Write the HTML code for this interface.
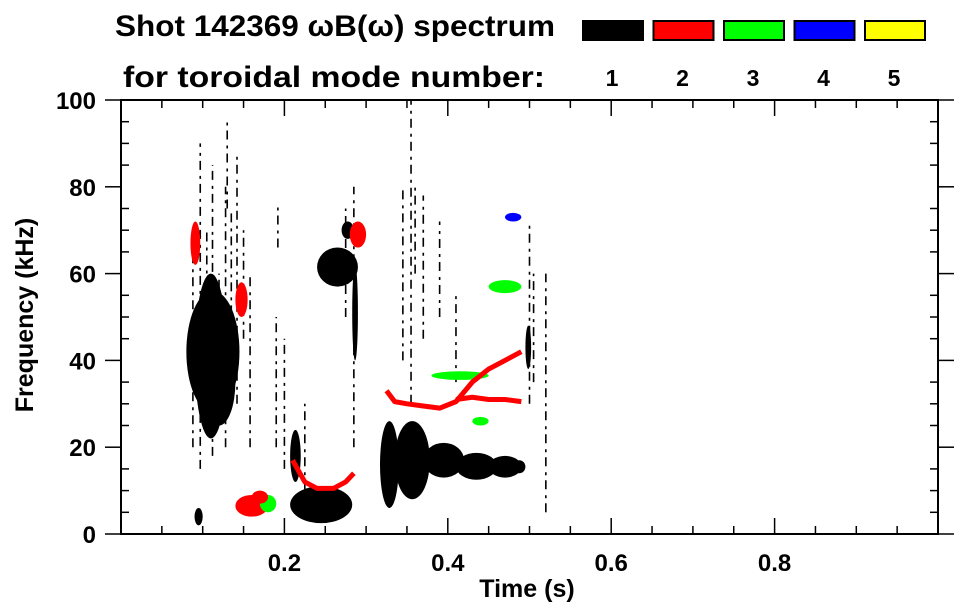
<!DOCTYPE html>
<html><head><meta charset="utf-8">
<style>
body{margin:0;background:#fff;}
svg{display:block;font-family:"Liberation Sans",sans-serif;font-weight:bold;}
</style></head>
<body>
<svg id="chart" width="963" height="615" viewBox="0 0 963 615">
<g>
<text x="115" y="36" font-size="30" textLength="440" lengthAdjust="spacingAndGlyphs">Shot 142369 ωB(ω) spectrum</text>
<text x="123" y="87" font-size="30" textLength="422" lengthAdjust="spacingAndGlyphs">for toroidal mode number:</text>
</g>
<g id="legend"></g>
<g id="marks"></g>
<g id="axes"></g>
<text x="527" y="597" font-size="25" text-anchor="middle">Time (s)</text>
<text transform="translate(33,315) rotate(-90)" font-size="25" text-anchor="middle">Frequency (kHz)</text>
</svg>
<script>
const modeColors=["#000000","#ff0000","#00ff00","#0000ff","#ffff00"];
const modeLabels=["1","2","3","4","5"];
const xTicks=[0.2,0.4,0.6,0.8];
const xTickLabels=["0.2","0.4","0.6","0.8"];
const yTicks=[0,20,40,60,80,100];
const yTickLabels=["0","20","40","60","80","100"];
// blobs: time range, freq range, mode
const blobT0=[0.08,0.09,0.085,0.10,0.09,0.207,0.207,0.24,0.27,0.317,0.335,0.37,0.41,0.45,0.48,0.085,0.28,0.14,0.38,0.45,0.43,0.47,0.14,0.17,0.283,0.16,0.495];
const blobT1=[0.145,0.13,0.125,0.14,0.10,0.283,0.22,0.29,0.285,0.34,0.378,0.42,0.46,0.49,0.495,0.097,0.30,0.18,0.45,0.49,0.45,0.49,0.155,0.19,0.29,0.18,0.502];
const blobF0=[28,22,35,25,2,2.5,12,57,68,6,8,13,12.5,13,14,62,66,4,35.5,55.5,25,72,50,5,40,7,38];
const blobF1=[56,60,55,45,6,11,24,66,72,26,26,21,18.7,18,17,72,72,9,37.5,58.5,27,74,58,9,62,10,48];
const blobMode=[1,1,1,1,1,1,1,1,1,1,1,1,1,1,1,2,2,2,3,3,3,4,2,3,1,2,1];
// streaks
const streakT=[0.088,0.097,0.105,0.112,0.12,0.128,0.135,0.142,0.15,0.158,0.19,0.2,0.225,0.285,0.275,0.345,0.355,0.36,0.37,0.5,0.505,0.52,0.39,0.41,0.13,0.192];
const streakF0=[20,15,25,18,30,20,40,30,45,20,20,15,5,20,50,40,30,60,45,30,35,5,50,35,75,66];
const streakF1=[65,90,70,85,60,80,75,88,70,60,50,45,30,80,75,80,100,80,78,72,60,60,72,55,95,76];
const streakMode=[1,1,1,1,1,1,1,1,1,1,1,1,1,1,1,1,1,1,1,1,1,1,1,1,1,1];
// red chirp curves (mode 2)
const redAT=[0.325,0.335,0.35,0.37,0.39,0.41,0.43,0.45,0.47,0.49];
const redAF=[33,30.5,30,29.5,29,30.5,35,38,40,42];
const redBT=[0.41,0.43,0.45,0.47,0.49];
const redBF=[31,31.5,31,31,30.5];
const redDT=[0.21,0.225,0.24,0.26,0.275,0.285];
const redDF=[17,12,10.5,10.5,12,14];

const X0=121,X1=938,Y0=534,Y1=100;
const xs=t=>X0+(X1-X0)*t;
const ys=f=>Y0-(Y0-Y1)*f/100;
const NS="http://www.w3.org/2000/svg";
function mk(tag,attrs,parent){const e=document.createElementNS(NS,tag);for(const k in attrs)e.setAttribute(k,attrs[k]);parent.appendChild(e);return e;}

const legend=document.getElementById('legend');
modeColors.forEach((c,i)=>{
  const bx=582+i*70.5;
  const r=mk('rect',{x:bx+1,y:21,width:60,height:19,fill:c,stroke:'#000','stroke-width':2},legend);
  
  
  const t=mk('text',{x:bx+30,y:86,'font-size':23,'text-anchor':'middle'},legend);
  t.textContent=modeLabels[i];
  
  
});

const marks=document.getElementById('marks');
streakT.forEach((t,i)=>{
  const l=mk('line',{x1:xs(t),x2:xs(t),y1:ys(streakF0[i]),y2:ys(streakF1[i]),stroke:modeColors[streakMode[i]-1],'stroke-width':1.6,'stroke-dasharray':'9 5 3 6'},marks);
  
  
});
blobT0.forEach((t0,i)=>{
  const cx=(xs(t0)+xs(blobT1[i]))/2, cy=(ys(blobF0[i])+ys(blobF1[i]))/2;
  const e=mk('ellipse',{cx:cx,cy:cy,rx:(xs(blobT1[i])-xs(t0))/2,ry:(ys(blobF0[i])-ys(blobF1[i]))/2,fill:modeColors[blobMode[i]-1]},marks);
  
  
});
[[redAT,redAF,'red-chirp-upper'],[redBT,redBF,'red-band-lower'],[redDT,redDF,'red-curve-early']].forEach(([T,F,n])=>{
  const p=mk('polyline',{points:T.map((t,i)=>xs(t)+','+ys(F[i])).join(' '),fill:'none',stroke:'#ff0000','stroke-width':5,'stroke-linejoin':'round'},marks);
  
  
});

const axes=document.getElementById('axes');
const box=mk('rect',{x:X0,y:Y1,width:X1-X0,height:Y0-Y1,fill:'none',stroke:'#000','stroke-width':2},axes);


for(let k=1;k<20;k++){const t=k*0.05;const maj=k%4==0;
  mk('line',{x1:xs(t),x2:xs(t),y1:Y0,y2:Y0-(maj?16:8),stroke:'#000','stroke-width':1.5},axes);
  mk('line',{x1:xs(t),x2:xs(t),y1:Y1,y2:Y1+(maj?16:8),stroke:'#000','stroke-width':1.5},axes);}
for(let k=0;k<=20;k++){const f=k*5;const maj=k%4==0;
  mk('line',{x1:X0-(maj?16:0),x2:X0+(maj?0:8),y1:ys(f),y2:ys(f),stroke:'#000','stroke-width':1.5},axes);
  mk('line',{x1:X1+(maj?16:0),x2:X1-(maj?0:8),y1:ys(f),y2:ys(f),stroke:'#000','stroke-width':1.5},axes);}
xTicks.forEach((t,i)=>{const e=mk('text',{x:xs(t),y:571,'font-size':24,'text-anchor':'middle'},axes);e.textContent=xTickLabels[i];
  
  });
yTicks.forEach((f,i)=>{const e=mk('text',{x:96,y:ys(f)+9,'font-size':24,'text-anchor':'end'},axes);e.textContent=yTickLabels[i];
  
  });
</script>
</body></html>
